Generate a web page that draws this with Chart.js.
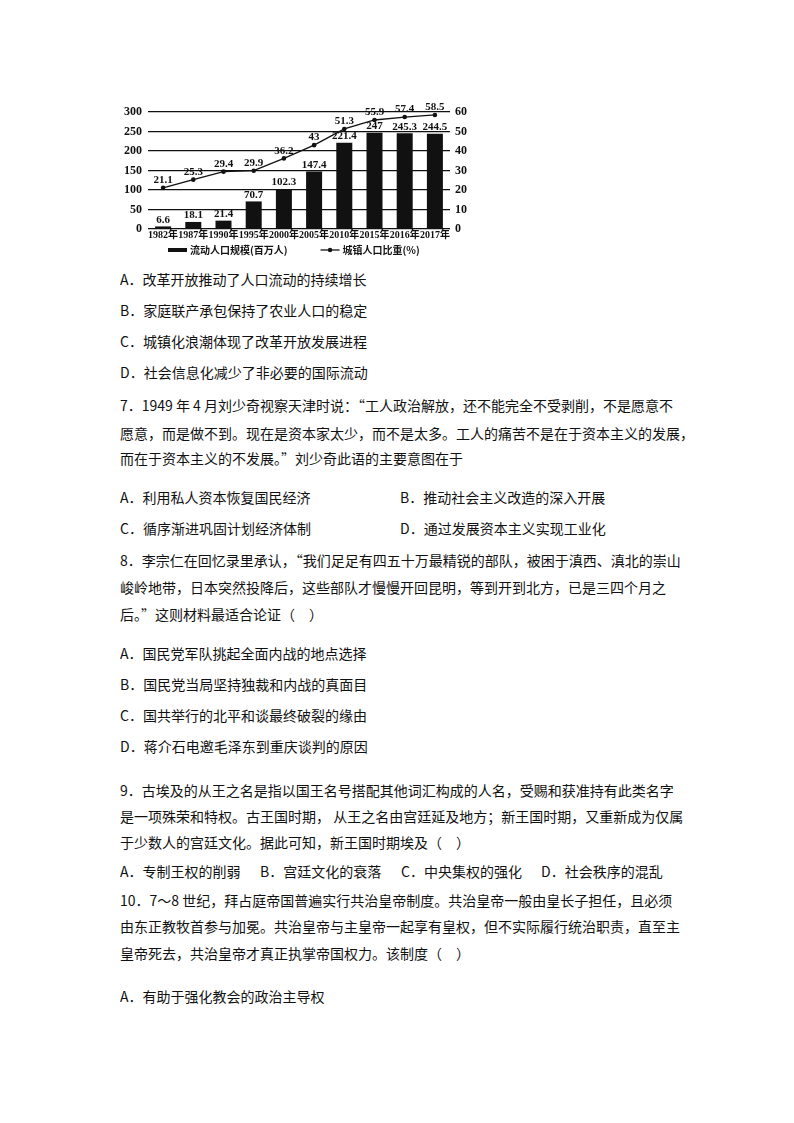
<!DOCTYPE html>
<html><head><meta charset="utf-8">
<script src="https://cdn.jsdelivr.net/npm/chart.js@4.4.1/dist/chart.umd.min.js"></script>
<style>
html,body{margin:0;padding:0;background:#fff;}
body{width:794px;height:1123px;position:relative;overflow:hidden;font-family:"Noto Sans CJK SC","Noto Sans",sans-serif;color:#111;}
.l{position:absolute;left:120px;font-size:14px;line-height:20px;white-space:nowrap;}
#wrap{position:absolute;left:95px;top:92px;width:392px;height:170px;}
</style></head><body>
<div id="wrap"><canvas id="c"></canvas></div>

<div class="l" style="top:269px">A．改革开放推动了人口流动的持续增长</div>
<div class="l" style="top:300px">B．家庭联产承包保持了农业人口的稳定</div>
<div class="l" style="top:331px">C．城镇化浪潮体现了改革开放发展进程</div>
<div class="l" style="top:362px">D．社会信息化减少了非必要的国际流动</div>

<div class="l" style="top:395px">7．1949 年 4 月刘少奇视察天津时说：“工人政治解放，还不能完全不受剥削，不是愿意不</div>
<div class="l" style="top:423px">愿意，而是做不到。现在是资本家太少，而不是太多。工人的痛苦不是在于资本主义的发展，</div>
<div class="l" style="top:448px">而在于资本主义的不发展。”刘少奇此语的主要意图在于</div>
<div class="l" style="top:487px">A．利用私人资本恢复国民经济</div>
<div class="l" style="top:487px;left:400px">B．推动社会主义改造的深入开展</div>
<div class="l" style="top:518px">C．循序渐进巩固计划经济体制</div>
<div class="l" style="top:518px;left:400px">D．通过发展资本主义实现工业化</div>

<div class="l" style="top:550px">8．李宗仁在回忆录里承认，“我们足足有四五十万最精锐的部队，被困于滇西、滇北的崇山</div>
<div class="l" style="top:577px">峻岭地带，日本突然投降后，这些部队才慢慢开回昆明，等到开到北方，已是三四个月之</div>
<div class="l" style="top:604px">后。”这则材料最适合论证（　）</div>
<div class="l" style="top:643px">A．国民党军队挑起全面内战的地点选择</div>
<div class="l" style="top:674px">B．国民党当局坚持独裁和内战的真面目</div>
<div class="l" style="top:705px">C．国共举行的北平和谈最终破裂的缘由</div>
<div class="l" style="top:736px">D．蒋介石电邀毛泽东到重庆谈判的原因</div>

<div class="l" style="top:780px">9．古埃及的从王之名是指以国王名号搭配其他词汇构成的人名，受赐和获准持有此类名字</div>
<div class="l" style="top:806px">是一项殊荣和特权。古王国时期， 从王之名由宫廷延及地方；新王国时期，又重新成为仅属</div>
<div class="l" style="top:832px">于少数人的宫廷文化。据此可知，新王国时期埃及（　）</div>
<div class="l" style="top:861px">A．专制王权的削弱</div>
<div class="l" style="top:861px;left:260px">B．宫廷文化的衰落</div>
<div class="l" style="top:861px;left:401px">C．中央集权的强化</div>
<div class="l" style="top:861px;left:541px">D．社会秩序的混乱</div>

<div class="l" style="top:890px">10．7～8 世纪，拜占庭帝国普遍实行共治皇帝制度。共治皇帝一般由皇长子担任，且必须</div>
<div class="l" style="top:916px">由东正教牧首参与加冕。共治皇帝与主皇帝一起享有皇权，但不实际履行统治职责，直至主</div>
<div class="l" style="top:943px">皇帝死去，共治皇帝才真正执掌帝国权力。该制度（　）</div>
<div class="l" style="top:986px">A．有助于强化教会的政治主导权</div>

<script>
const years = ['1982年','1987年','1990年','1995年','2000年','2005年','2010年','2015年','2016年','2017年'];
const floatingPopulation = [6.6, 18.1, 21.4, 70.7, 102.3, 147.4, 221.4, 247, 245.3, 244.5];
const urbanShare = [21.1, 25.3, 29.4, 29.9, 36.2, 43, 51.3, 55.9, 57.4, 58.5];
const seriesNames = ['流动人口规模(百万人)', '城镇人口比重(%)'];
const leftAxis = {min: 0, max: 300, step: 50};
const rightAxis = {min: 0, max: 60, step: 10};

const INK = '#111';
const SERIF = '"Liberation Serif","Noto Sans CJK SC",serif';
Chart.defaults.font.family = SERIF;
Chart.defaults.color = INK;

const valueLabels = {
  id: 'valueLabels',
  afterDatasetsDraw(chart) {
    const ctx = chart.ctx;
    ctx.save();
    ctx.font = 'bold 11px ' + SERIF;
    ctx.fillStyle = INK;
    ctx.textAlign = 'center';
    ctx.textBaseline = 'bottom';
    chart.data.datasets.forEach((ds, i) => {
      const meta = chart.getDatasetMeta(i);
      meta.data.forEach((el, j) => {
        const y = ds.type === 'bar' ? el.y - 1 : el.y - 2;
        ctx.fillText(String(ds.data[j]), el.x, y);
      });
    });
    ctx.restore();
  }
};

const customLegend = {
  id: 'customLegend',
  afterDraw(chart) {
    const ctx = chart.ctx, ca = chart.chartArea;
    ctx.save();
    ctx.font = 'bold 10px "Noto Sans CJK SC",sans-serif';
    ctx.fillStyle = INK; ctx.strokeStyle = INK;
    ctx.textBaseline = 'middle';
    const y = ca.bottom + 21;
    let x = ca.left + 20;
    ctx.fillRect(x, y - 2, 19, 4);
    x += 22;
    ctx.fillText(seriesNames[0], x, y);
    x += ctx.measureText(seriesNames[0]).width + 33;
    ctx.lineWidth = 1.3;
    ctx.beginPath(); ctx.moveTo(x, y); ctx.lineTo(x + 19, y); ctx.stroke();
    ctx.beginPath(); ctx.arc(x + 9.5, y, 2.2, 0, Math.PI * 2); ctx.fill();
    x += 22;
    ctx.fillText(seriesNames[1], x, y);
    ctx.restore();
  }
};

new Chart(document.getElementById('c'), {
  data: {
    labels: years,
    datasets: [
      {
        type: 'line', label: seriesNames[1], data: urbanShare, yAxisID: 'y1', order: 0,
        borderColor: INK, backgroundColor: INK, borderWidth: 1.3,
        pointRadius: 2.3, pointBackgroundColor: INK, pointBorderWidth: 0, tension: 0
      },
      {
        type: 'bar', label: seriesNames[0], data: floatingPopulation, yAxisID: 'y', order: 1,
        backgroundColor: INK, borderWidth: 0, barPercentage: 0.53, categoryPercentage: 1
      }
    ]
  },
  options: {
    responsive: true, maintainAspectRatio: false, animation: false,
    layout: {padding: {top: 20, bottom: 19, left: 0, right: 0}},
    plugins: {legend: {display: false}, tooltip: {enabled: false}},
    scales: {
      x: {
        offset: true,
        grid: {display: false, drawTicks: false},
        border: {display: false},
        ticks: {padding: 0, maxRotation: 0, autoSkip: false, font: {size: 10, weight: 'bold'}, color: INK},
        afterFit(s) { s.height = 14; }
      },
      y: {
        position: 'left', min: leftAxis.min, max: leftAxis.max,
        grid: {color: INK, lineWidth: 1.2, drawTicks: false},
        border: {display: false},
        ticks: {stepSize: leftAxis.step, padding: 6, font: {size: 12, weight: 'bold'}, color: INK},
        afterFit(s) { s.width = 53; }
      },
      y1: {
        position: 'right', min: rightAxis.min, max: rightAxis.max,
        grid: {display: false, drawTicks: false},
        border: {display: false},
        ticks: {stepSize: rightAxis.step, padding: 5, font: {size: 12, weight: 'bold'}, color: INK},
        afterFit(s) { s.width = 37; }
      }
    }
  },
  plugins: [valueLabels, customLegend]
});
</script>
</body></html>
